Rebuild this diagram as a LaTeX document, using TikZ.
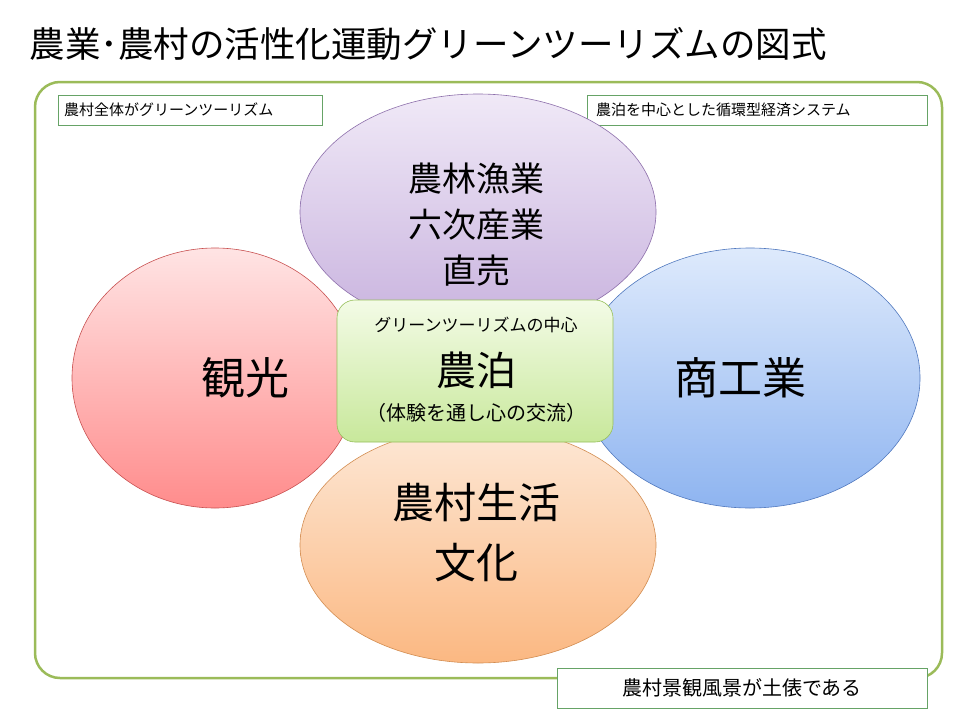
\documentclass[tikz,border=0pt]{standalone}
\usepackage{fontspec}
\setmainfont{Noto Sans CJK JP}
\begin{document}
\begin{tikzpicture}[x=1pt,y=-1pt,
  lbl/.style={draw=green!40!black!60,fill=white,line width=0.6pt,minimum height=30pt,inner sep=0pt,font=\fontsize{15}{17}\selectfont}]
\useasboundingbox (0,0) rectangle (960,720);
\node[anchor=west,font=\fontsize{35.5}{38}\selectfont] (title) at (26,44) {農業･農村の活性化運動グリーンツーリズムの図式};
\draw[draw={rgb,255:red,155;green,187;blue,89},line width=2.5pt,rounded corners=25pt] (35,82) rectangle (942,678);
\node[lbl,minimum width=264pt,text width=252pt,align=left] (tl) at (190,110) {農村全体がグリーンツーリズム};
\node[lbl,minimum width=340pt,text width=322pt,align=left] (tr) at (757,110) {農泊を中心とした循環型経済システム};
\shade[top color={rgb,255:red,255;green,228;blue,228},bottom color={rgb,255:red,255;green,140;blue,140},draw={rgb,255:red,200;green,80;blue,80},line width=0.6pt] (215,378) ellipse (143 and 130);
\shade[top color={rgb,255:red,222;green,234;blue,252},bottom color={rgb,255:red,142;green,180;blue,240},draw={rgb,255:red,80;green,120;blue,190},line width=0.6pt] (750,378) ellipse (170 and 130);
\shade[top color={rgb,255:red,240;green,233;blue,247},bottom color={rgb,255:red,200;green,178;blue,222},draw={rgb,255:red,140;green,110;blue,170},line width=0.6pt] (478,212) ellipse (178 and 118);
\shade[top color={rgb,255:red,253;green,232;blue,214},bottom color={rgb,255:red,251;green,184;blue,130},draw={rgb,255:red,210;green,140;blue,80},line width=0.6pt] (478,545) ellipse (178 and 118);
\node[font=\fontsize{44}{48}\selectfont] (kanko) at (245,378) {観光};
\node[font=\fontsize{44}{48}\selectfont] (shoko) at (740,378) {商工業};
\node[font=\fontsize{34}{46}\selectfont,align=center] (nori) at (476,225) {農林漁業\\六次産業\\直売};
\node[font=\fontsize{42}{60}\selectfont,align=center] (seikatsu) at (476,533) {農村生活\\文化};
\shade[rounded corners=18pt,top color={rgb,255:red,243;green,251;blue,230},bottom color={rgb,255:red,200;green,232;blue,155},draw={rgb,255:red,150;green,190;blue,90},line width=0.6pt] (337,300) rectangle (613,442);
\node[font=\fontsize{17}{19}\selectfont] (c1) at (476,325) {グリーンツーリズムの中心};
\node[font=\fontsize{40}{44}\selectfont] (c2) at (476,370) {農泊};
\node[font=\fontsize{20}{22}\selectfont] (c3) at (476,413) {（体験を通し心の交流）};
\node[lbl,minimum width=370pt,minimum height=40pt,font=\fontsize{20}{22}\selectfont] (bot) at (742,688) {農村景観風景が土俵である};
\end{tikzpicture}
\end{document}
